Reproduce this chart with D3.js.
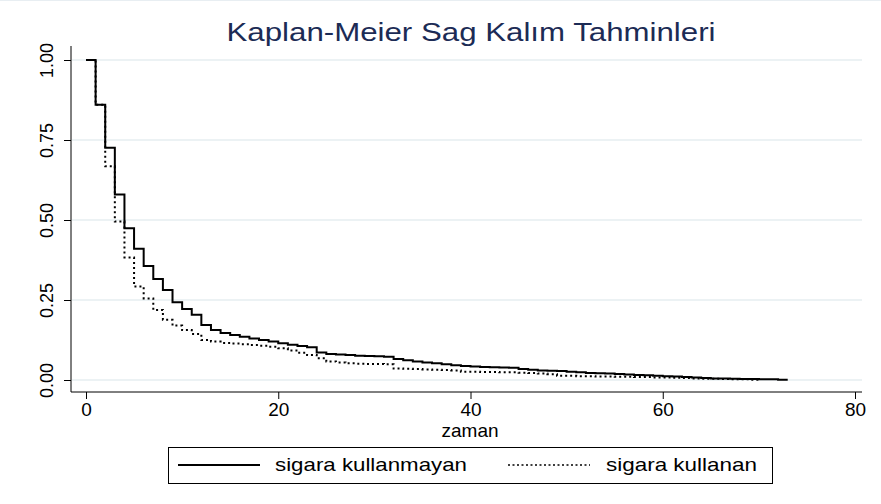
<!DOCTYPE html>
<html>
<head>
<meta charset="utf-8">
<script src="https://cdn.jsdelivr.net/npm/d3@7"></script>
<style>
  html, body { margin: 0; padding: 0; background: #fff; }
  svg { display: block; font-family: "Liberation Sans", Arial, Helvetica, sans-serif; }
</style>
</head>
<body>
<svg id="chart" width="881" height="504"></svg>
<script>
// ---------------- data ----------------
const title = "Kaplan-Meier Sag Kalım Tahminleri";
const xLabel = "zaman";
const seriesNames = ["sigara kullanmayan", "sigara kullanan"];
const xTicks = [0, 20, 40, 60, 80];
const yTicks = [0, 0.25, 0.5, 0.75, 1];

const timesNonSmoker = [0,1,2,3,4,5,6,7,8,9,10,11,12,13,14,15,16,17,18,19,20,21,22,23,24,25,26,27,28,29,30,31,32,33,34,35,36,37,38,39,40,41,42,43,44,45,46,47,48,49,50,51,52,53,54,55,56,57,58,59,60,61,62,63,64,65,66,67,68,69,70,71,72,73];
const survNonSmoker = [1.0,0.86,0.726,0.58,0.474,0.41,0.356,0.316,0.281,0.243,0.222,0.204,0.172,0.156,0.147,0.141,0.135,0.13,0.125,0.12,0.115,0.11,0.106,0.102,0.086,0.081,0.08,0.078,0.076,0.075,0.074,0.073,0.066,0.062,0.058,0.055,0.052,0.049,0.046,0.044,0.042,0.041,0.04,0.039,0.038,0.034,0.032,0.030,0.029,0.028,0.026,0.024,0.022,0.021,0.020,0.019,0.017,0.016,0.015,0.013,0.012,0.011,0.009,0.008,0.006,0.005,0.005,0.004,0.003,0.003,0.002,0.002,0.001,0.001];

const timesSmoker = [0,1,2,3,4,5,6,7,8,9,10,11,12,13,14,15,16,17,18,19,20,21,22,23,24,25,26,27,28,29,30,31,32,33,34,35,36,37,38,39,40,41,42,43,44,45,46,47,48,49,50,51,52,53,54,55,56,57,58,59,60,61,62,63,64,65,66,67,68,69,70];
const survSmoker = [1.0,0.86,0.668,0.495,0.383,0.292,0.255,0.219,0.188,0.17,0.156,0.144,0.125,0.12,0.116,0.114,0.112,0.109,0.107,0.104,0.099,0.092,0.085,0.078,0.068,0.058,0.055,0.052,0.051,0.050,0.050,0.049,0.036,0.035,0.034,0.033,0.032,0.031,0.030,0.026,0.026,0.025,0.025,0.024,0.024,0.023,0.022,0.020,0.018,0.013,0.013,0.012,0.012,0.011,0.011,0.010,0.010,0.009,0.009,0.008,0.008,0.007,0.006,0.005,0.004,0.004,0.003,0.002,0.002,0.001,0.001];

// ---------------- layout ----------------
const svg = d3.select("#chart");
const x = d3.scaleLinear().domain([0, 80]).range([86, 855]);
const y = d3.scaleLinear().domain([0, 1]).range([380, 60]);
const axisX = 71, axisY = 392, plotRight = 862, plotTop = 46;

// faint top frame line
svg.append("line").attr("x1", 0).attr("x2", 881).attr("y1", 0.5).attr("y2", 0.5)
  .attr("stroke", "#e8eef2").attr("stroke-width", 1);

// gridlines
svg.append("g").selectAll("line").data(yTicks).join("line")
  .attr("x1", axisX + 1).attr("x2", plotRight)
  .attr("y1", d => y(d)).attr("y2", d => y(d))
  .attr("stroke", "#e6eef1").attr("stroke-width", 1.5);

// y axis
const yAxis = d3.axisLeft(y).tickValues(yTicks).tickFormat(d3.format(".2f")).tickSize(7).tickPadding(4);
const gy = svg.append("g").attr("transform", `translate(${axisX},0)`).call(yAxis);
gy.select(".domain").remove();
gy.append("line").attr("x1", 0).attr("x2", 0).attr("y1", plotTop).attr("y2", axisY).attr("stroke", "#000");
gy.selectAll(".tick line").attr("stroke", "#000");
gy.selectAll(".tick text")
  .attr("font-size", 18).attr("fill", "#000")
  .attr("text-anchor", "middle").attr("dy", null)
  .attr("x", 0).attr("y", 0)
  .attr("transform", "translate(-24,0) rotate(-90)")
  .attr("dominant-baseline", "central")
  .attr("font-family", "'Liberation Sans', Arial, sans-serif");

// x axis
const xAxis = d3.axisBottom(x).tickValues(xTicks).tickFormat(d3.format("d")).tickSize(7).tickPadding(4);
const gx = svg.append("g").attr("transform", `translate(0,${axisY})`).call(xAxis);
gx.select(".domain").remove();
gx.append("line").attr("x1", axisX).attr("x2", plotRight).attr("y1", 0).attr("y2", 0).attr("stroke", "#000");
gx.selectAll(".tick line").attr("stroke", "#000");
gx.selectAll(".tick text").attr("font-size", 19).attr("fill", "#000")
  .attr("font-family", "'Liberation Sans', Arial, sans-serif");

// x label
svg.append("text").attr("x", 470).attr("y", 437).attr("text-anchor", "middle")
  .attr("font-size", 19).attr("fill", "#000").text(xLabel);

// title
svg.append("text").attr("x", 471).attr("y", 41).attr("text-anchor", "middle")
  .attr("font-size", 26).attr("fill", "#1c2b55")
  .attr("textLength", 489).attr("lengthAdjust", "spacingAndGlyphs")
  .text(title);

// curves
const line = d3.line().x(d => x(d[0])).y(d => y(d[1])).curve(d3.curveStepAfter);
const dataNon = timesNonSmoker.map((t, i) => [t, survNonSmoker[i]]);
const dataSmk = timesSmoker.map((t, i) => [t, survSmoker[i]]);

svg.append("path").datum(dataSmk).attr("d", line)
  .attr("fill", "none").attr("stroke", "#000").attr("stroke-width", 2)
  .attr("stroke-dasharray", "2,3");
svg.append("path").datum(dataNon).attr("d", line)
  .attr("fill", "none").attr("stroke", "#000").attr("stroke-width", 2);

// legend
const lg = svg.append("g");
lg.append("rect").attr("x", 168.5).attr("y", 447.5).attr("width", 604).attr("height", 36)
  .attr("fill", "#fff").attr("stroke", "#000").attr("stroke-width", 1);
lg.append("line").attr("x1", 178).attr("x2", 260).attr("y1", 465).attr("y2", 465)
  .attr("stroke", "#000").attr("stroke-width", 2);
lg.append("text").attr("x", 275).attr("y", 471).attr("font-size", 19).attr("fill", "#000")
  .attr("textLength", 192).attr("lengthAdjust", "spacingAndGlyphs").text(seriesNames[0]);
lg.append("line").attr("x1", 508).attr("x2", 590).attr("y1", 465).attr("y2", 465)
  .attr("stroke", "#000").attr("stroke-width", 1.5).attr("stroke-dasharray", "2,2.5");
lg.append("text").attr("x", 606).attr("y", 471).attr("font-size", 19).attr("fill", "#000")
  .attr("textLength", 151).attr("lengthAdjust", "spacingAndGlyphs").text(seriesNames[1]);
</script>
</body>
</html>
